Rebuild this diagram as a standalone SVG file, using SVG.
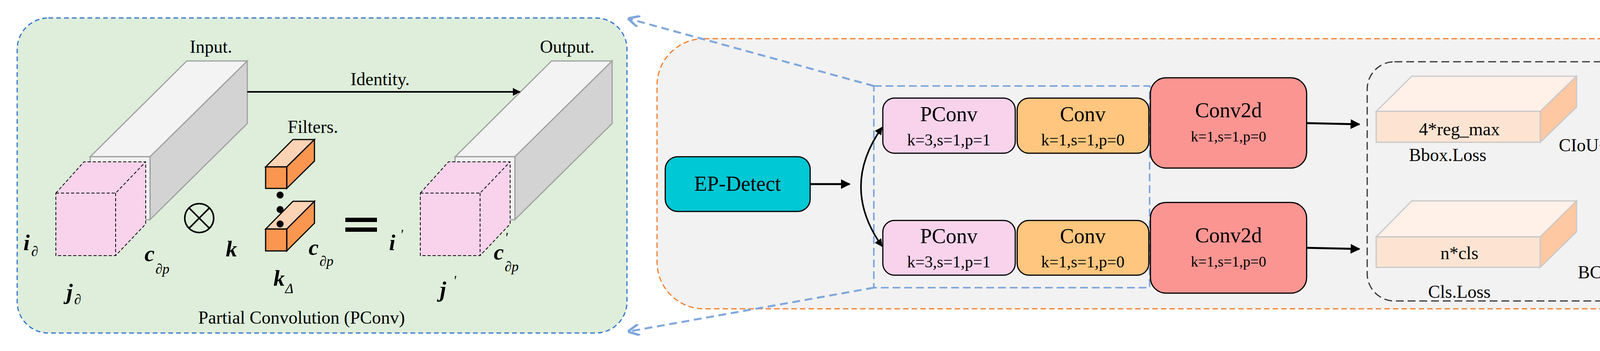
<svg xmlns="http://www.w3.org/2000/svg" width="4328" height="898" viewBox="0 0 4328 898">
<style>
text{font-family:"Liberation Serif","Times New Roman",serif;fill:#000}
.t{font-size:46px}
.m{font-size:58px;font-style:italic}
.s{font-size:36px;font-style:italic}
.node{stroke:#000;stroke-width:3}
.big{font-size:54px}
.sub{font-size:42px}
.sub2{font-size:38px}
</style>
<defs>
<marker id="ah" viewBox="0 0 10 10" refX="9" refY="5" markerWidth="5" markerHeight="5" orient="auto-start-reverse"><path d="M0,0L10,5L0,10z" fill="#000"/></marker>
<marker id="bh" viewBox="0 0 10 10" refX="9" refY="5" markerWidth="6" markerHeight="6" orient="auto"><path d="M0,0L10,5L0,10" fill="none" stroke="#7fa7dc" stroke-width="2"/></marker>
</defs>
<rect width="4328" height="898" fill="#fff"/>
<g id="pconv-panel">
<rect x="44" y="46" width="1561" height="806" rx="80" fill="#deeedb" stroke="#2e75c8" stroke-width="3" stroke-dasharray="12,8"/>
<g id="input-bar" stroke="#a0a0a0" stroke-width="3">
<polygon points="231,401 478,156 633,156 384,401" fill="#f3f3f3"/>
<polygon points="384,401 633,156 633,316 384,562" fill="#d3d3d3"/>
<rect x="231" y="401" width="153" height="161" fill="#f3f3f3"/>
</g>
<g id="input-pink" fill="#f9d3ec" stroke="#000" stroke-width="2" stroke-dasharray="8,5">
<polygon points="143,494 215,414 373,414 373,573 296,654 143,654"/>
<polyline points="143,494 296,494 373,414" fill="none"/>
<line x1="296" y1="494" x2="296" y2="654"/>
</g>
<g id="output-bar" stroke="#a0a0a0" stroke-width="3">
<polygon points="1165,401 1412,156 1567,156 1318,401" fill="#f3f3f3"/>
<polygon points="1318,401 1567,156 1567,316 1318,562" fill="#d3d3d3"/>
<rect x="1165" y="401" width="153" height="161" fill="#f3f3f3"/>
</g>
<g id="output-pink" fill="#f9d3ec" stroke="#000" stroke-width="2" stroke-dasharray="8,5">
<polygon points="1076,494 1148,414 1306,414 1306,573 1229,654 1076,654"/>
<polyline points="1076,494 1229,494 1306,414" fill="none"/>
<line x1="1229" y1="494" x2="1229" y2="654"/>
</g>
<g id="filters" stroke="#000" stroke-width="3">
<polygon points="680,427 750,357 805,357 734,427" fill="#fdd3b5"/>
<polygon points="734,427 805,357 805,412 734,482" fill="#fb9650"/>
<rect x="680" y="427" width="54" height="55" fill="#fb9650"/>
<polygon points="680,586 750,515 805,515 734,586" fill="#fdd3b5"/>
<polygon points="734,586 805,515 805,571 734,642" fill="#fb9650"/>
<rect x="680" y="586" width="54" height="56" fill="#fb9650"/>
</g>
<g fill="#000"><circle cx="717" cy="499" r="9"/><circle cx="717" cy="536" r="9"/><circle cx="717" cy="573" r="9"/></g>
<circle cx="510" cy="558" r="37" fill="none" stroke="#000" stroke-width="4"/>
<line x1="485" y1="533" x2="535" y2="583" stroke="#000" stroke-width="4"/>
<line x1="535" y1="533" x2="485" y2="583" stroke="#000" stroke-width="4"/>
<rect x="884" y="557" width="81" height="11" fill="#000"/>
<rect x="884" y="582" width="81" height="11" fill="#000"/>
<line x1="633" y1="235" x2="1331" y2="235" stroke="#000" stroke-width="4" marker-end="url(#ah)"/>
<text class="t" x="540" y="135" text-anchor="middle">Input.</text>
<text class="t" x="1452" y="135" text-anchor="middle">Output.</text>
<text class="t" x="973" y="218" text-anchor="middle">Identity.</text>
<text class="t" x="801" y="340" text-anchor="middle">Filters.</text>
<text class="m" x="60" y="640" font-weight="bold">i</text><text class="s" x="80" y="655">∂</text>
<text class="m" x="170" y="766" font-weight="bold">j</text><text class="s" x="190" y="778">∂</text>
<text class="m" x="370" y="668" font-weight="bold">c</text><text class="s" x="398" y="700">∂p</text>
<text class="m" x="578" y="656" font-weight="bold">k</text>
<text class="m" x="700" y="731" font-weight="bold">k</text><text class="s" x="730" y="750">Δ</text>
<text class="m" x="790" y="652" font-weight="bold">c</text><text class="s" x="818" y="680">∂p</text>
<text class="m" x="996" y="640" font-weight="bold">i</text><text class="s" x="1024" y="612">'</text>
<text class="m" x="1264" y="664" font-weight="bold">c</text><text class="s" x="1292" y="620">'</text><text class="s" x="1292" y="694">∂p</text>
<text class="m" x="1126" y="760" font-weight="bold">j</text><text class="s" x="1160" y="730">'</text>
<text class="t" x="772" y="828" text-anchor="middle">Partial  Convolution (PConv)</text>
</g>
<g id="head-panel">
<rect x="1682" y="99" width="2607" height="691" rx="120" fill="#f2f2f2" stroke="#f37c2a" stroke-width="3" stroke-dasharray="14,8"/>
</g>
<g id="zoom-box">
<rect x="2237" y="220" width="706" height="516" fill="none" stroke="#7fa7dc" stroke-width="4" stroke-dasharray="20,10"/>
</g>
<g id="ep-detect"><rect class="node" x="1703" y="401" width="371" height="140" rx="32" fill="#00c8d4"/><text class="big" x="1888" y="488" text-anchor="middle">EP-Detect</text></g>
<g id="pconv1"><rect class="node" x="2260" y="251" width="339" height="141" rx="30" fill="#f9d3ec"/><text class="big" x="2429" y="310" text-anchor="middle">PConv</text><text class="sub" x="2429" y="372" text-anchor="middle">k=3,s=1,p=1</text></g>
<g id="conv1"><rect class="node" x="2604" y="251" width="337" height="141" rx="30" fill="#fec67e"/><text class="big" x="2772" y="310" text-anchor="middle">Conv</text><text class="sub" x="2772" y="372" text-anchor="middle">k=1,s=1,p=0</text></g>
<g id="conv2d1"><rect class="node" x="2945" y="199" width="400" height="231" rx="40" fill="#fb9592"/><text class="big" x="3145" y="300" text-anchor="middle">Conv2d</text><text class="sub2" x="3145" y="362" text-anchor="middle">k=1,s=1,p=0</text></g>
<g id="pconv2"><rect class="node" x="2260" y="564" width="339" height="140" rx="30" fill="#f9d3ec"/><text class="big" x="2429" y="622" text-anchor="middle">PConv</text><text class="sub" x="2429" y="684" text-anchor="middle">k=3,s=1,p=1</text></g>
<g id="conv2"><rect class="node" x="2604" y="564" width="337" height="140" rx="30" fill="#fec67e"/><text class="big" x="2772" y="622" text-anchor="middle">Conv</text><text class="sub" x="2772" y="684" text-anchor="middle">k=1,s=1,p=0</text></g>
<g id="conv2d2"><rect class="node" x="2945" y="518" width="400" height="232" rx="40" fill="#fb9592"/><text class="big" x="3145" y="620" text-anchor="middle">Conv2d</text><text class="sub2" x="3145" y="682" text-anchor="middle">k=1,s=1,p=0</text></g>
<g id="loss-box">
<rect x="3500" y="158" width="751" height="612" rx="70" fill="none" stroke="#333" stroke-width="3" stroke-dasharray="20,10"/>
<g stroke="#c8c8c8" stroke-width="3">
<polygon points="3523,285 3614,195 4036,195 3943,285" fill="#fff0e8"/>
<polygon points="3943,285 4036,195 4036,274 3943,364" fill="#fdc8a2"/>
<rect x="3523" y="285" width="420" height="79" fill="#fde4d2"/>
<polygon points="3523,606 3614,514 4036,514 3943,606" fill="#fff0e8"/>
<polygon points="3943,606 4036,514 4036,593 3943,684" fill="#fdc8a2"/>
<rect x="3523" y="606" width="420" height="78" fill="#fde4d2"/>
</g>
<text class="t" x="3736" y="346" text-anchor="middle">4*reg_max</text>
<text class="t" x="4098" y="387" text-anchor="middle">CIoU+DFL</text>
<text class="t" x="3706" y="412" text-anchor="middle">Bbox.Loss</text>
<text class="t" x="3736" y="663" text-anchor="middle">n*cls</text>
<text class="t" x="4084" y="712" text-anchor="middle">BCE</text>
<text class="t" x="3736" y="762" text-anchor="middle">Cls.Loss</text>
</g>
<g id="connectors" fill="none">
<line x1="2237" y1="220" x2="1610" y2="48" stroke="#7fa7dc" stroke-width="5" stroke-dasharray="20,12" marker-end="url(#bh)"/>
<line x1="2237" y1="736" x2="1610" y2="848" stroke="#7fa7dc" stroke-width="5" stroke-dasharray="20,12" marker-end="url(#bh)"/>
<line x1="2074" y1="471" x2="2175" y2="471" stroke="#000" stroke-width="5" marker-end="url(#ah)"/>
<path d="M2258,326 Q2150,478 2258,630" stroke="#000" stroke-width="4" marker-start="url(#ah)" marker-end="url(#ah)"/>
<line x1="3345" y1="315" x2="3480" y2="318" stroke="#000" stroke-width="5" marker-end="url(#ah)"/>
<line x1="3345" y1="634" x2="3480" y2="637" stroke="#000" stroke-width="5" marker-end="url(#ah)"/>
</g>
</svg>
